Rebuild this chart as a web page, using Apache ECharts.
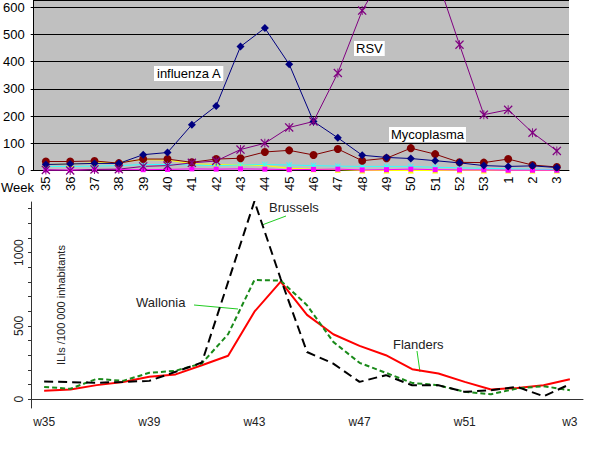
<!DOCTYPE html>
<html>
<head>
<meta charset="utf-8">
<script src="https://cdn.jsdelivr.net/npm/echarts@6/dist/echarts.min.js"></script>
<style>
  html, body { margin: 0; padding: 0; background: #fff; }
  #main { width: 600px; height: 460px; }
</style>
</head>
<body>
<div id="main"></div>
<script>
// top panel: lab detections per week
var weeksTop = ['35', '36', '37', '38', '39', '40', '41', '42', '43', '44', '45', '46', '47', '48', '49', '50', '51', '52', '53', '1', '2', '3'];
var fluA = [22, 24, 26, 26, 58, 66, 168, 237, 455, 523, 390, 180, 120, 56, 48, 44, 36, 28, 18, 15, 17, 11];
var rsv = [2, 0, 4, 5, 15, 18, 28, 35, 77, 100, 158, 180, 358, 587, 740, 800, 725, 462, 205, 223, 139, 72];
var myco = [33, 33, 35, 27, 42, 42, 30, 42, 45, 68, 74, 57, 79, 36, 45, 82, 60, 30, 29, 42, 20, 13];
var yellowSer = [22, 24, 28, 30, 40, 38, 25, 22, 20, 18, 8, 5, 3, 0, 0, 0, 0, 0, 0, 0, 0, 0];
var cyanSer = [15, 15, 16, 18, 22, 22, 20, 18, 20, 22, 20, 18, 16, 15, 15, 15, 12, 10, 8, 6, 5, 3];
var magentaSer = [2, 2, 3, 3, 3, 4, 6, 5, 6, 5, 3, 4, 5, 2, 3, 5, 3, 2, 2, 1, 1, 1];

// bottom panel: ILI consultations per region
var weeksBottom = ['w35', 'w36', 'w37', 'w38', 'w39', 'w40', 'w41', 'w42', 'w43', 'w44', 'w45', 'w46', 'w47', 'w48', 'w49', 'w50', 'w51', 'w52', 'w1', 'w2', 'w3'];
var brussels = [121, 116, 112, 118, 125, 187, 250, 800, 1350, 820, 322, 243, 118, 164, 95, 95, 50, 61, 84, 20, 102];
var wallonia = [84, 71, 139, 125, 180, 194, 244, 444, 813, 809, 641, 391, 248, 180, 111, 95, 50, 34, 73, 89, 61];
var flanders = [57, 66, 96, 118, 153, 169, 232, 296, 597, 802, 575, 443, 364, 300, 205, 175, 118, 66, 77, 95, 136];
var iliLabels = [0, 500, 1000];
var iliTicks = [0, 100, 200, 300, 400, 500, 600, 700, 800, 900, 1000, 1100, 1200, 1300];

// asterisk-like marker (x with a vertical bar)
var starMark = 'path://M0,1L1,0L4.5,3.5L4.5,0L5.5,0L5.5,3.5L9,0L10,1L6,5L10,9L9,10L5.5,6.5L5.5,10L4.5,10L4.5,6.5L1,10L0,9L4,5Z';
var font = 'Liberation Sans, Arial, sans-serif';

var chart = echarts.init(document.getElementById('main'), null, { renderer: 'svg' });

function topLine(name, data, color, symbol, size) {
  return {
    name: name,
    type: 'line',
    xAxisIndex: 0,
    yAxisIndex: 0,
    data: data,
    symbol: symbol,
    symbolSize: size,
    showAllSymbol: true,
    lineStyle: { color: color, width: 1 },
    itemStyle: { color: color },
    animation: false
  };
}

function bottomLine(name, data, color, type) {
  return {
    name: name,
    type: 'line',
    xAxisIndex: 1,
    yAxisIndex: 1,
    data: data,
    symbol: 'none',
    lineStyle: { color: color, width: 2, type: type },
    animation: false
  };
}

var option = {
  backgroundColor: '#fff',
  textStyle: { fontFamily: font },
  grid: [
    {
      left: 32, right: 31, top: 0, bottom: 289.5,
      show: true, backgroundColor: '#c0c0c0', borderWidth: 0
    },
    {
      left: 31, right: 17, top: 202, bottom: 52
    }
  ],
  xAxis: [
    {
      gridIndex: 0,
      type: 'category',
      data: weeksTop,
      boundaryGap: true,
      axisLine: { lineStyle: { color: '#000', width: 1 } },
      axisTick: { interval: 0, length: 5, lineStyle: { color: '#000' } },
      axisLabel: { interval: 0, rotate: 90, margin: 6, fontSize: 13, color: '#000', fontFamily: font }
    },
    {
      gridIndex: 1,
      type: 'category',
      data: weeksBottom,
      boundaryGap: true,
      axisLine: { lineStyle: { color: '#333', width: 1 } },
      axisTick: { interval: 0, alignWithLabel: true, length: 4, lineStyle: { color: '#333' } },
      axisLabel: { interval: 3, margin: 8, fontSize: 12, color: '#222', fontFamily: font }
    }
  ],
  yAxis: [
    {
      gridIndex: 0,
      type: 'value',
      min: 0,
      max: 626,
      interval: 100,
      axisLine: { show: true, lineStyle: { color: '#000', width: 1 } },
      axisTick: { show: true, length: 3, lineStyle: { color: '#000' } },
      axisLabel: { margin: 9, fontSize: 13, color: '#000', fontFamily: font, showMaxLabel: false },
      splitLine: { lineStyle: { color: '#000', width: 1 } }
    },
    {
      gridIndex: 1,
      type: 'value',
      min: -60,
      max: 1345,
      axisLine: { show: true, lineStyle: { color: '#333', width: 1 } },
      axisTick: { show: true, length: 3, customValues: iliTicks, lineStyle: { color: '#333' } },
      axisLabel: {
        rotate: 90, margin: 6, fontSize: 12, color: '#222', fontFamily: font,
        customValues: iliLabels,
        formatter: function (v) { return String(v); }
      },
      splitLine: { show: false },
      name: 'ILIs /100 000 inhabitants',
      nameLocation: 'middle',
      nameGap: -35,
      nameTextStyle: { fontSize: 11, color: '#222', fontFamily: font }
    }
  ],
  series: [
    topLine('yellow', yellowSer, '#ffff00', 'triangle', 6),
    topLine('cyan', cyanSer, '#33ffff', starMark, 6),
    topLine('magenta', magentaSer, '#ff00ff', 'rect', 5),
    topLine('Mycoplasma', myco, '#800000', 'circle', 8),
    topLine('influenza A', fluA, '#000080', 'diamond', 8),
    topLine('RSV', rsv, '#800080', starMark, 9),
    bottomLine('Flanders', flanders, '#ff0000', 'solid'),
    bottomLine('Wallonia', wallonia, '#1a8a1a', [5, 3]),
    bottomLine('Brussels', brussels, '#000000', [9, 5])
  ],
  graphic: [
    { type: 'text', left: 1, top: 181, style: { text: 'Week', font: '13px ' + font, fill: '#000' } },
    { type: 'text', x: 154, y: 66, style: { text: 'influenza A', font: '13px ' + font, fill: '#000', backgroundColor: '#fff', padding: [1, 2, 1, 3] } },
    { type: 'text', x: 354, y: 41, style: { text: 'RSV', font: '13px ' + font, fill: '#000', backgroundColor: '#fff', padding: [1, 2, 1, 2] } },
    { type: 'text', x: 389, y: 127, style: { text: 'Mycoplasma', font: '13px ' + font, fill: '#000', backgroundColor: '#fff', padding: [1, 2, 1, 2] } },
    { type: 'text', x: 269, y: 201, style: { text: 'Brussels', font: '13px ' + font, fill: '#222' } },
    { type: 'line', shape: { x1: 262, y1: 225, x2: 286, y2: 216 }, style: { stroke: '#22cc22', lineWidth: 1 } },
    { type: 'text', x: 136, y: 296, style: { text: 'Wallonia', font: '13px ' + font, fill: '#222' } },
    { type: 'line', shape: { x1: 194, y1: 305, x2: 238, y2: 309 }, style: { stroke: '#22cc22', lineWidth: 1 } },
    { type: 'text', x: 393, y: 338, style: { text: 'Flanders', font: '13px ' + font, fill: '#222' } },
    { type: 'line', shape: { x1: 417, y1: 351, x2: 420, y2: 372 }, style: { stroke: '#22cc22', lineWidth: 1 } }
  ]
};

chart.setOption(option);
</script>
</body>
</html>
